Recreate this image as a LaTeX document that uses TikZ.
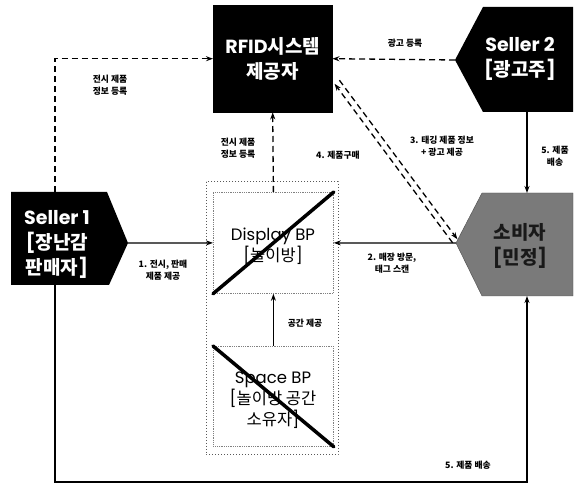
\documentclass[tikz,border=0pt]{standalone}
\usepackage{fontspec}
\setmainfont{Noto Sans CJK KR}
\newfontfamily\lat{Poppins}
\usetikzlibrary{arrows.meta}
\tikzset{
  conn/.style={line width=1.3pt,-{Stealth[length=7pt,width=5pt]}},
  dconn/.style={conn,dash pattern=on 6pt off 4pt},
  lbl/.style={font=\fontsize{8.8}{12.5}\selectfont\bfseries,align=center,inner sep=1pt},
  bigtxt/.style={align=center,font=\fontsize{19}{25}\selectfont\bfseries,inner sep=0pt},
  midtxt/.style={align=center,font=\fontsize{16.5}{21}\selectfont,inner sep=0pt},
  blackshape/.style={fill=black,draw=black},
  cross/.style={line width=3.5pt,line cap=round},
  ibox/.style={draw=gray,densely dotted,line width=0.8pt}
}
\begin{document}
\begin{tikzpicture}[x=1pt,y=-1pt]
\useasboundingbox (0,0) rectangle (587,486);
% ---- RFID provider
\node[blackshape,minimum width=119pt,minimum height=107pt,anchor=north west,inner sep=0pt] (rfid) at (213,5) {};
\node[bigtxt,text=white] (rfidt) at (rfid.center) {{\lat RFID}시스템\\제공자};
% ---- Seller 2
\coordinate (s2tip) at (455,60);
\coordinate (s2bot) at (527,112);
\fill[black] (573,7) -- (483,7) -- (s2tip) -- (483,112) -- (573,112) -- cycle;
\node[bigtxt,text=white] (s2t) at (520,59) {{\lat Seller 2}\\{\lat[}광고주{\lat]}};
% ---- Seller 1
\coordinate (s1tip) at (128,243);
\coordinate (s1top) at (55,192);
\coordinate (s1bot) at (55,285);
\fill[black] (11,192) -- (107,192) -- (s1tip) -- (109,285) -- (11,285) -- cycle;
\node[bigtxt,text=white] (s1t) at (57,244) {{\lat Seller 1}\\{\lat[}장난감\\판매자{\lat]}};
% ---- Consumer
\coordinate (ctip) at (456,243);
\coordinate (ctop) at (527,193);
\coordinate (cbot) at (527,296);
\fill[black!52,draw=black!70] (573,193) -- (482,193) -- (ctip) -- (482,296) -- (573,296) -- cycle;
\node[bigtxt,text=black!90] (ct) at (520,246) {소비자\\{\lat[}민정{\lat]}};
% ---- Center group
\draw[dotted,line width=1pt,gray!70!black] (206,182) rectangle (338,455);
\node[ibox,minimum width=120pt,minimum height=101pt,anchor=north west,inner sep=0pt] (disp) at (213,192) {};
\node[midtxt] (dispt) at (273,246) {{\lat Display BP}\\{\lat[}놀이방{\lat]}};
\draw[cross] (disp.south west) -- (disp.north east);
\node[ibox,minimum width=120pt,minimum height=100pt,anchor=north west,inner sep=0pt] (space) at (213,346) {};
\node[midtxt] (spacet) at (273,400) {{\lat Space BP}\\{\lat[}놀이방 공간\\소유자{\lat]}};
\draw[cross] (space.north west) -- (space.south east);
% ---- connectors
\draw[dconn] (s1top) |- (rfid.west);
\draw[dconn] (s2tip) -- (rfid.east);
\draw[dconn] (disp.north) -- (rfid.south);
\coordinate (a1) at (339.4,80.2);
\coordinate (a2) at (457.4,239.2);
\coordinate (b1) at (334.6,83.8);
\coordinate (b2) at (452.6,242.8);
\draw[dconn] (a1) -- (a2);
\draw[dconn] (b2) -- (b1);
\draw[conn] (s1tip) -- (disp.west);
\draw[conn] (ctip) -- (disp.east);
\draw[conn] (space.north) -- (disp.south);
\draw[conn] (s2bot) -- (ctop);
\coordinate (bl) at (55,482);
\draw[conn] (s1bot) -- (bl) -| (cbot);
% ---- labels
\node[lbl] (l1) at (110,85) {전시 제품\\정보 등록};
\node[lbl] (l2) at (405,43) {광고 등록};
\node[lbl] (l3) at (238,148) {전시 제품\\정보 등록};
\node[lbl] (l4) at (338,155) {4. 제품구매};
\node[lbl] (l5) at (442,146) {3. 태깅 제품 정보\\+ 광고 제공};
\node[lbl] (l6) at (555,156) {5. 제품\\배송};
\node[lbl] (l7) at (163,270) {1. 전시, 판매\\제품 제공};
\node[lbl] (l8) at (392,263) {2. 매장 방문,\\태그 스캔};
\node[lbl] (l9) at (305,323) {공간 제공};
\node[lbl] (l10) at (468,465) {5. 제품 배송};
\end{tikzpicture}
\end{document}
